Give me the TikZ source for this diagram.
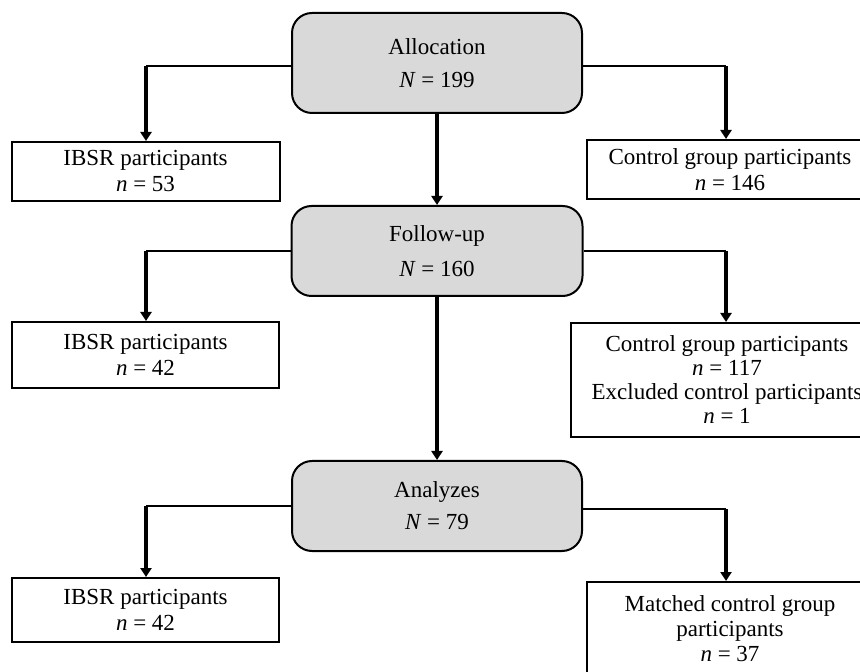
\documentclass[tikz,border=0pt]{standalone}
\usepackage{fontspec}
\setmainfont{Liberation Serif}
\usetikzlibrary{arrows.meta}
\definecolor{boxgray}{HTML}{D9D9D9}
\tikzset{
  stage/.style={draw, line width=1pt, fill=boxgray, rounded corners=10pt, align=center, inner sep=0pt},
  group/.style={draw, line width=1pt, fill=white, align=center, inner sep=0pt},
  hline/.style={line width=1pt},
  down/.style={line width=1.7pt, -{Triangle[width=5.5pt,length=4.5pt]}},
}
\begin{document}
\begin{tikzpicture}[x=0.5pt,y=-0.5pt,font=\fontsize{11.5}{13}\selectfont]
    \clip (0,0) rectangle (860,672);
    % stages
    \node[stage, minimum width=145pt, minimum height=50pt] (alloc) at (437,63) {Allocation\\[3.5pt]\textit{N} = 199};
    \node[stage, minimum width=145.5pt, minimum height=45pt] (follow) at (437,251) {Follow-up\\[4.5pt]\textit{N} = 160};
    \node[stage, minimum width=145pt, minimum height=45pt] (analyze) at (437,506) {Analyzes\\[3pt]\textit{N} = 79};
    % groups
    \node[group, minimum width=134pt, minimum height=29.5pt] (ibsr1) at (145.5,171.5) {IBSR participants\\\textit{n} = 53};
    \node[group, minimum width=143pt, minimum height=29.5pt] (ctrl1) at (730,169.5) {Control group participants\\\textit{n} = 146};
    \node[group, minimum width=133.5pt, minimum height=33pt] (ibsr2) at (145.5,355) {IBSR participants\\\textit{n} = 42};
    \node[group, minimum width=156pt, minimum height=57pt, font=\fontsize{11.5}{12}\selectfont] (ctrl2) at (727,380)
        {Control group participants\\\textit{n} = 117\\Excluded control participants\\\textit{n} = 1};
    \node[group, minimum width=133.5pt, minimum height=32pt] (ibsr3) at (145.5,610) {IBSR participants\\\textit{n} = 42};
    \node[group, minimum width=143pt, minimum height=47pt, font=\fontsize{11.5}{12.5}\selectfont] (match) at (730,629)
        {Matched control group\\participants\\\textit{n} = 37};
    % branch points
    \coordinate (a1) at (146,66);
    \coordinate (a2) at (726,66);
    \coordinate (f1) at (146,251);
    \coordinate (f2) at (726,251);
    \coordinate (n1) at (146,506);
    \coordinate (n2) at (726,509);
    % connectors
    \draw[hline] (a1 -| alloc.west) -- (a1);
    \draw[down] (a1) -- (a1 |- ibsr1.north);
    \draw[hline] (a2 -| alloc.east) -- (a2);
    \draw[down] (a2) -- (a2 |- ctrl1.north);
    \draw[down] (alloc.south) -- (follow.north);
    \draw[hline] (f1 -| follow.west) -- (f1);
    \draw[down] (f1) -- (f1 |- ibsr2.north);
    \draw[hline] (f2 -| follow.east) -- (f2);
    \draw[down] (f2) -- (f2 |- ctrl2.north);
    \draw[down] (follow.south) -- (analyze.north);
    \draw[hline] (n1 -| analyze.west) -- (n1);
    \draw[down] (n1) -- (n1 |- ibsr3.north);
    \draw[hline] (n2 -| analyze.east) -- (n2);
    \draw[down] (n2) -- (n2 |- match.north);
\end{tikzpicture}
\end{document}
